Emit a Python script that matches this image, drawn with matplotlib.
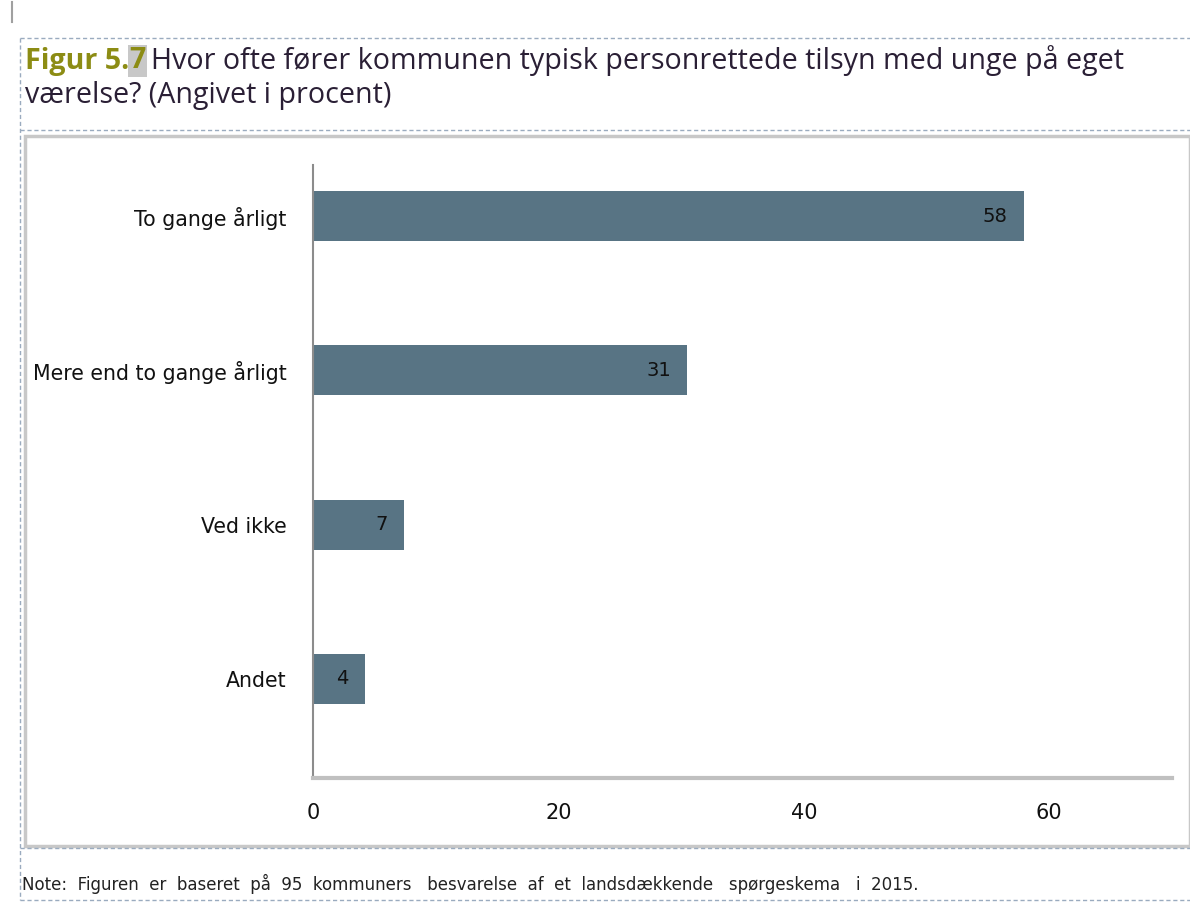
import matplotlib.pyplot as plt
from matplotlib.patches import Rectangle
from matplotlib.lines import Line2D

categories = ['To gange årligt', 'Mere end to gange årligt', 'Ved ikke', 'Andet']
values = [57.9, 30.5, 7.4, 4.2]
labels = ['58', '31', '7', '4']
ticks = [0, 20, 40, 60]

W, H = 1190, 907
fig = plt.figure(figsize=(W / 100, H / 100), dpi=100)

def fx(px):
    return px / W

def fy(py):
    return 1 - py / H

# stiplede rammer
dash = dict(color='#9aabbf', lw=1.0, ls=(0, (3, 2)), transform=fig.transFigure)
for y in [38, 130, 848, 900]:
    fig.add_artist(Line2D([fx(20), fx(1190)], [fy(y), fy(y)], **dash))
fig.add_artist(Line2D([fx(20), fx(20)], [fy(38), fy(900)], **dash))

# diagramramme
fig.add_artist(Rectangle((fx(25), fy(846)), fx(1190) - fx(25), fy(136) - fy(846),
                         transform=fig.transFigure, fill=False, ec='#c8c8c8', lw=2.5))
fig.add_artist(Line2D([fx(12), fx(12)], [fy(2), fy(22)], color='#a0a0a0', lw=1.5,
                      transform=fig.transFigure))

# titel
fs = 20.6
ty1, ty2 = fy(61), fy(95)
t1 = fig.text(fx(25), ty1, 'Figur 5.', fontsize=fs, fontweight='bold', color='#8c8c14',
              family='Open Sans', va='center')
fig.canvas.draw()
bb = t1.get_window_extent()
t2 = fig.text(bb.x1 / W, ty1, '7', fontsize=fs, fontweight='bold', color='#8c8c14',
              family='Open Sans', va='center',
              bbox=dict(boxstyle='square,pad=0.05', fc='#c8c8c8', ec='none'))
bb2 = t2.get_window_extent()
fig.text(bb2.x1 / W + 0.005, ty1, 'Hvor ofte fører kommunen typisk personrettede tilsyn med unge på eget',
         fontsize=fs, color='#2a1f35', family='Open Sans', va='center')
fig.text(fx(25), ty2, 'værelse? (Angivet i procent)', fontsize=fs, color='#2a1f35',
         family='Open Sans', va='center')

# note
fig.text(fx(22), fy(884), 'Note:  Figuren  er  baseret  på  95  kommuners   besvarelse  af  et  landsdækkende   spørgeskema   i  2015.',
         fontsize=12, color='#222222', family='DejaVu Sans', va='center')

# akser
ax = fig.add_axes([fx(313), fy(778), fx(1172) - fx(313), fy(165) - fy(778)])
ypos = list(range(len(categories)))
bars = ax.barh(ypos, values, height=0.325, color='#587484')
ax.set_xlim(0, 70)
ax.set_ylim(3 + 99 / 154, -51 / 154)
ax.set_yticks(ypos)
ax.set_yticklabels(categories, fontsize=14.8, family='DejaVu Sans', color='#111111')
ax.set_xticks(ticks)
ax.set_xticklabels([str(t) for t in ticks], fontsize=15, family='DejaVu Sans',
                   color='#111111')
ax.tick_params(axis='x', length=0, pad=18)
ax.tick_params(axis='y', length=0, pad=19)
for s in ['top', 'right']:
    ax.spines[s].set_visible(False)
ax.spines['left'].set_color('#8c8c8c')
ax.spines['left'].set_linewidth(1.5)
ax.spines['bottom'].set_color('#c0c0c0')
ax.spines['bottom'].set_linewidth(3)

for b, lab in zip(bars, labels):
    ax.text(b.get_width() - 1.3, b.get_y() + b.get_height() / 2, lab,
            ha='right', va='center', fontsize=14, family='DejaVu Sans',
            color='#111111')

fig.savefig('out.png', dpi=100)
